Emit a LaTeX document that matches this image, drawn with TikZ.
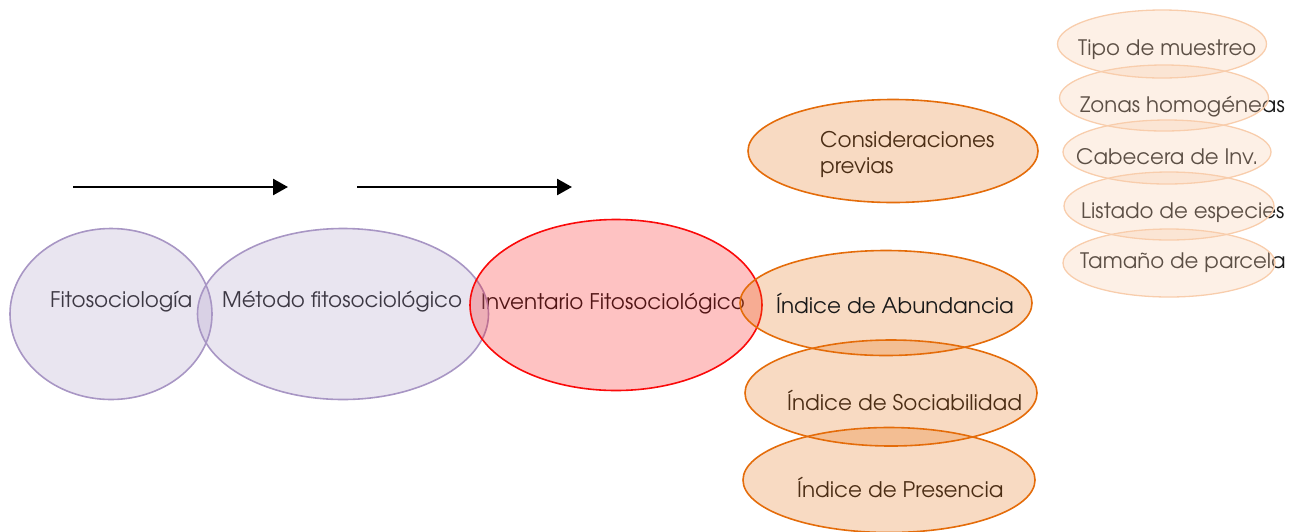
\documentclass[tikz,border=0pt]{standalone}
\usepackage{fontspec}
\setmainfont{TeX Gyre Adventor}
\usetikzlibrary{arrows.meta, shapes.geometric, backgrounds}

\definecolor{lila}{RGB}{168,150,196}
\definecolor{rojo}{RGB}{250,10,10}
\definecolor{naranja}{RGB}{228,108,10}
\definecolor{melocoton}{RGB}{248,205,172}
\definecolor{tinta}{RGB}{25,25,25}

\begin{document}
\begin{tikzpicture}
  [
    x = 1pt, y = -1pt,
    burbuja/.style = {ellipse, inner sep = 0pt, line width = 1.6pt, fill opacity = 0.25},
    lila/.style = {burbuja, draw = lila, fill = lila, minimum height = 171pt},
    roja/.style = {burbuja, draw = rojo, fill = rojo, minimum height = 171pt},
    naranja/.style = {burbuja, draw = naranja, fill = naranja, minimum width = 292pt},
    chica/.style = {burbuja, line width = 1.3pt, draw = melocoton, fill = melocoton, fill opacity = 0.3},
    texto/.style = {inner sep = 0pt, anchor = base west, text = tinta, font = \fontsize{21.5}{26}\selectfont},
    textochico/.style = {texto, font = \fontsize{21.3}{25}\selectfont},
    flecha/.style = {line width = 2.5pt, -{Triangle[length = 15pt, width = 16pt]}}
  ]
  \useasboundingbox (0,0) rectangle (1297,531);

  % flechas
  \coordinate (f1a) at (73,187);
  \coordinate (f1b) at (288,187);
  \coordinate (f2a) at (357,187);
  \coordinate (f2b) at (572,187);
  \draw [flecha] (f1a) -- (f1b);
  \draw [flecha] (f2a) -- (f2b);

  % cadena principal
  \node [lila, minimum width = 202pt] (fito)   at (111,314) {};
  \node [lila, minimum width = 291pt] (metodo) at (343,314) {};
  \node [roja, minimum width = 292pt] (inv)    at (616,305) {};

  % indices
  \node [naranja, minimum height = 103pt, minimum width = 290pt] (consid) at (893,151) {};
  \node [naranja, minimum height = 105pt] (abund) at (886,303) {};
  \node [naranja, minimum height = 106pt] (socia) at (891,393) {};
  \node [naranja, minimum height = 105pt] (pres)  at (889,480) {};

  % consideraciones previas
  \node [chica, minimum width = 209pt, minimum height = 68pt] (tipo)   at (1162,44)  {};
  \node [chica, minimum width = 209pt, minimum height = 66pt] (zonas)  at (1164,98)  {};
  \node [chica, minimum width = 208pt, minimum height = 64pt] (cabe)   at (1167,152) {};
  \node [chica, minimum width = 210pt, minimum height = 68pt] (lista)  at (1169,206) {};
  \node [chica, minimum width = 212pt, minimum height = 68pt] (tamano) at (1169,263) {};

  \node [texto] (abund-t) at (776,313) {Índice de Abundancia};

  \begin{scope}[on background layer]
    \node [texto] (fito-t)   at (50,307)  {Fitosociología};
    \node [texto] (metodo-t) at (222,307) {Método fitosociológico};
    \node [texto] (inv-t)    at (481,309) {Inventario Fitosociológico};
    \node [texto, anchor = west, align = left] (consid-t) at (820,154) {Consideraciones\\previas};
    \node [texto] (socia-t)  at (787,410) {Índice de Sociabilidad};
    \node [texto] (pres-t)   at (797,497) {Índice de Presencia};
    \node [textochico] (tipo-t)   at (1078,55)  {Tipo de muestreo};
    \node [textochico] (zonas-t)  at (1080,112) {Zonas homogéneas};
    \node [textochico] (cabe-t)   at (1076,164) {Cabecera de Inv.};
    \node [textochico] (lista-t)  at (1081,218) {Listado de especies};
    \node [textochico] (tamano-t) at (1080,268) {Tamaño de parcela};
  \end{scope}
\end{tikzpicture}
\end{document}
